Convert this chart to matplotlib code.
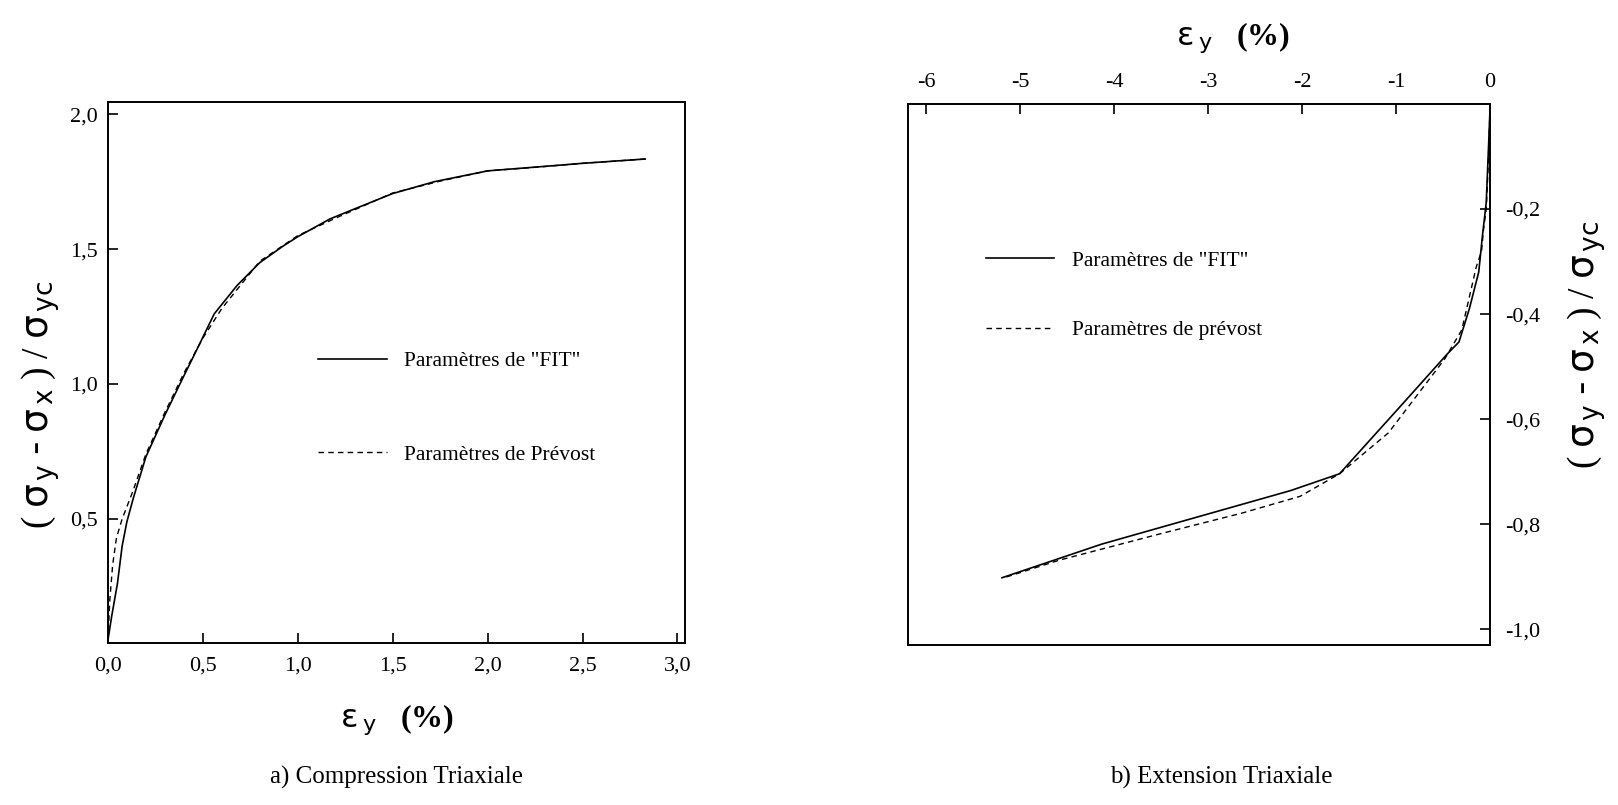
import matplotlib
matplotlib.use("Agg")
import matplotlib.pyplot as plt

# -----------------------------
# Data
# -----------------------------

# a) Compression triaxiale
comp_fit_x = [0, 0.02, 0.05, 0.075, 0.1, 0.135, 0.2, 0.3, 0.4, 0.47, 0.56, 0.68,
              0.8, 0.92, 1.0, 1.17, 1.32, 1.5, 1.72, 2.0, 2.27, 2.5, 2.83]
comp_fit_y = [0.05, 0.14, 0.26, 0.40, 0.49, 0.58, 0.73, 0.885, 1.03, 1.13, 1.26, 1.365,
              1.45, 1.51, 1.546, 1.612, 1.655, 1.706, 1.75, 1.79, 1.805, 1.818, 1.834]
comp_prev_x = [0, 0.01, 0.025, 0.045, 0.075, 0.13, 0.2, 0.3, 0.4, 0.5, 0.6, 0.8,
               1.0, 1.2, 1.5, 1.75, 2.0, 2.3, 2.5, 2.83]
comp_prev_y = [0.05, 0.2, 0.33, 0.43, 0.5, 0.6, 0.74, 0.895, 1.04, 1.17, 1.28, 1.455,
               1.55, 1.615, 1.708, 1.752, 1.79, 1.806, 1.818, 1.834]

# b) Extension triaxiale
ext_fit_x = [0, -0.02, -0.04, -0.08, -0.12, -0.22, -0.33, -0.46, -0.93, -1.6,
             -2.12, -3.5, -4.13, -5.19]
ext_fit_y = [-0.01, -0.1, -0.187, -0.25, -0.32, -0.39, -0.453, -0.477, -0.571, -0.704,
             -0.736, -0.806, -0.838, -0.902]
ext_prev_x = [0, -0.02, -0.04, -0.07, -0.09, -0.146, -0.3, -0.48, -1.08, -1.6,
              -2.02, -2.64, -3.5, -4.59, -5.17]
ext_prev_y = [-0.01, -0.12, -0.2, -0.24, -0.28, -0.31, -0.43, -0.485, -0.626, -0.704,
              -0.747, -0.779, -0.818, -0.869, -0.902]

comp_xticks = [0, 0.5, 1.0, 1.5, 2.0, 2.5, 3.0]
comp_xlabels = ["0,0", "0,5", "1,0", "1,5", "2,0", "2,5", "3,0"]
comp_yticks = [0.5, 1.0, 1.5, 2.0]
comp_ylabels = ["0,5", "1,0", "1,5", "2,0"]

ext_xticks = [-6, -5, -4, -3, -2, -1, 0]
ext_xlabels = ["-6", "-5", "-4", "-3", "-2", "-1", "0"]
ext_yticks = [-0.2, -0.4, -0.6, -0.8, -1.0]
ext_ylabels = ["-0,2", "-0,4", "-0,6", "-0,8", "-1,0"]

# -----------------------------
# Style
# -----------------------------
plt.rcParams["font.family"] = ["Liberation Serif", "DejaVu Serif"]
plt.rcParams["mathtext.fontset"] = "custom"
plt.rcParams["mathtext.rm"] = "Liberation Serif"
plt.rcParams["mathtext.it"] = "Liberation Serif:italic"
plt.rcParams["mathtext.bf"] = "Liberation Serif:bold"
plt.rcParams["mathtext.sf"] = "DejaVu Sans"

TICK_FS = 16
LAB_FS = 27
XLAB_FS = 23
LEG_FS = 15.5
CAP_FS = 18
DASH = (0, (4, 3))

# short hyphen instead of the long math minus, as in the scan
ylab = (r"$(\ \mathsf{\sigma}_{\,\mathsf{y}}\ \mathsf{\u2010}\ \mathsf{\sigma}_{\,\mathsf{x}}\ )"
        r"\ /\ \mathsf{\sigma}_{\,\mathsf{yc}}$")
ylab = ylab.replace("\\u2010", "\u2010")
xlab = r"$\mathsf{\varepsilon}_{\ \mathsf{y}}\ \ \ \mathbf{(\%)}$"

fig = plt.figure(figsize=(16.18, 8.05), dpi=100)
ax1 = fig.add_axes([0.0667, 0.2012, 0.3567, 0.672])
ax2 = fig.add_axes([0.5612, 0.1988, 0.3597, 0.672])

for ax in (ax1, ax2):
    for sp in ax.spines.values():
        sp.set_linewidth(1.4)

# --- a) Compression
ax1.plot(comp_fit_x, comp_fit_y, color="black", lw=1.2, label="Paramètres de \"FIT\"")
ax1.plot(comp_prev_x, comp_prev_y, color="black", lw=1.0, linestyle=DASH,
         label="Paramètres de Prévost")
ax1.set_xlim(0, 3.04)
ax1.set_ylim(0.04, 2.045)
ax1.set_xticks(comp_xticks)
ax1.set_xticklabels(comp_xlabels)
ax1.set_yticks(comp_yticks)
ax1.set_yticklabels(comp_ylabels)
ax1.tick_params(direction="in", length=7, width=1.2, labelsize=TICK_FS)
ax1.tick_params(axis="x", pad=10)
ax1.tick_params(axis="y", pad=7)
ax1.set_ylabel(ylab, fontsize=LAB_FS)
ax1.yaxis.set_label_coords(-0.08, 0.44)
ax1.set_xlabel(xlab, fontsize=XLAB_FS)
ax1.xaxis.set_label_coords(0.5, -0.11)
ax1.legend(loc="upper left", bbox_to_anchor=(0.33, 0.575), frameon=False,
           fontsize=LEG_FS, handlelength=3.2, handletextpad=0.8, labelspacing=3.4)

# --- b) Extension
ax2.plot(ext_fit_x, ext_fit_y, color="black", lw=1.2, label="Paramètres de \"FIT\"")
ax2.plot(ext_prev_x, ext_prev_y, color="black", lw=1.0, linestyle=DASH,
         label="Paramètres de prévost")
ax2.set_xlim(-6.19, 0)
ax2.set_ylim(-1.03, 0)
ax2.xaxis.tick_top()
ax2.yaxis.tick_right()
ax2.set_xticks(ext_xticks)
ax2.set_xticklabels(ext_xlabels)
ax2.set_yticks(ext_yticks)
ax2.set_yticklabels(ext_ylabels)
ax2.tick_params(direction="in", length=7, width=1.2, labelsize=TICK_FS)
ax2.tick_params(axis="x", pad=9)
ax2.tick_params(axis="y", pad=11)
ax2.xaxis.set_label_position("top")
ax2.set_xlabel(xlab, fontsize=XLAB_FS)
ax2.xaxis.set_label_coords(0.558, 1.11)
ax2.yaxis.set_label_position("right")
ax2.set_ylabel(ylab, fontsize=LAB_FS, rotation=90)
ax2.yaxis.set_label_coords(1.13, 0.555)
ax2.legend(loc="upper left", bbox_to_anchor=(0.1, 0.765), frameon=False,
           fontsize=LEG_FS, handlelength=3.2, handletextpad=0.8, labelspacing=2.3)

# captions
fig.text(0.245, 0.034, "a) Compression Triaxiale", ha="center", va="center", fontsize=CAP_FS)
fig.text(0.755, 0.034, "b) Extension Triaxiale", ha="center", va="center", fontsize=CAP_FS)

fig.savefig("out.png", dpi=100)
